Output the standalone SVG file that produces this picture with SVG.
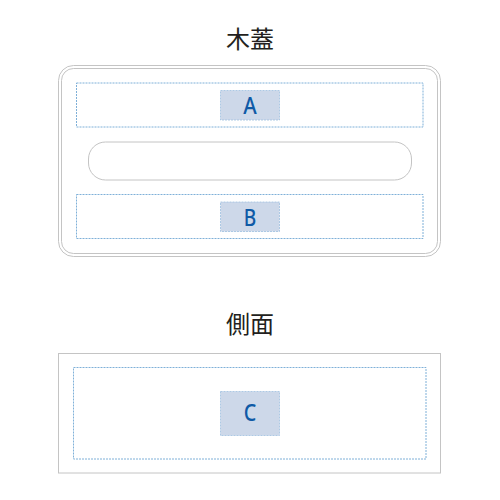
<svg xmlns="http://www.w3.org/2000/svg" width="500" height="500" viewBox="0 0 500 500">
<style>
.line{fill:none;stroke:#c4c4c4;stroke-width:1}
.zone{fill:none;stroke:#7fb0d8;stroke-width:1;stroke-dasharray:2 1}
.lab{fill:#cdd8e9;stroke:#9ec0e0;stroke-width:0.8;stroke-dasharray:2 1}
.lt{font-family:"Noto Sans","Open Sans",sans-serif;font-size:23px;font-weight:500;fill:#0f5aa6;text-anchor:middle}
.title{font-family:"Noto Sans CJK JP","Noto Sans CJK SC",sans-serif;font-size:24px;fill:#231f20;text-anchor:middle}
</style>
<rect width="500" height="500" fill="#fff"/>
<g id="lid">
<text class="title" x="250" y="48">木蓋</text>
<rect class="line" x="58.5" y="65.5" width="382" height="191" rx="15"/>
<rect class="line" x="61.5" y="68.5" width="376" height="185" rx="12"/>
<rect class="line" x="88.5" y="142" width="323" height="38" rx="17"/>
</g>
<g id="A">
<rect class="zone" x="76.5" y="83" width="346.5" height="44"/>
<rect class="lab" x="220.5" y="90.5" width="59" height="29.5"/>
<text class="lt" x="250" y="113.5" textLength="13.5" lengthAdjust="spacingAndGlyphs">A</text>
</g>
<g id="B">
<rect class="zone" x="76.5" y="194.5" width="346.5" height="44"/>
<rect class="lab" x="220.5" y="202" width="59" height="29.5"/>
<text class="lt" x="250" y="225.5" textLength="12.5" lengthAdjust="spacingAndGlyphs">B</text>
</g>
<g id="side">
<text class="title" x="250" y="333">側面</text>
<rect class="line" x="58.5" y="353.5" width="382" height="119.5"/>
</g>
<g id="C">
<rect class="zone" x="73.5" y="367.5" width="352.5" height="91.5"/>
<rect class="lab" x="220.5" y="391.5" width="59" height="44"/>
<text class="lt" x="250" y="421" textLength="12.5" lengthAdjust="spacingAndGlyphs">C</text>
</g>
</svg>
